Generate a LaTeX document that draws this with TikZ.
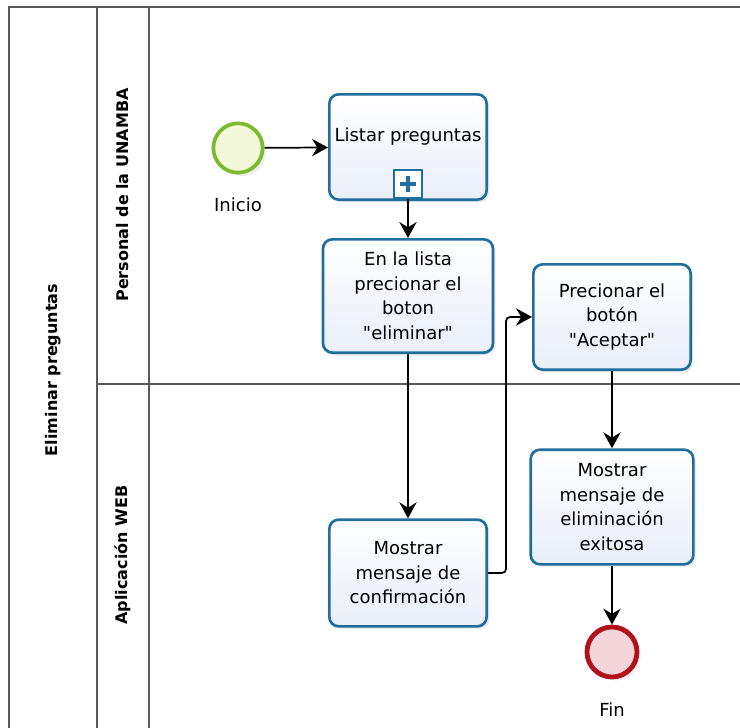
\documentclass[tikz,border=0pt]{standalone}
\usepackage{fontspec}
\setmainfont{DejaVu Sans}
\usetikzlibrary{arrows.meta,positioning,shadows}
\definecolor{tblue}{HTML}{1F6E9E}
\definecolor{tpale}{HTML}{E9EEFA}
\definecolor{sgreen}{HTML}{7DBB2E}
\definecolor{spale}{HTML}{F3F8DA}
\definecolor{ered}{HTML}{B0121B}
\definecolor{epale}{HTML}{F5D5DA}
\definecolor{lgray}{HTML}{5A5A5A}

\begin{document}
\begin{tikzpicture}[x=0.75pt,y=-0.75pt,every node/.style={font=\fontsize{13.5}{18.4}\selectfont,align=center},task/.style={draw=tblue,line width=2pt,rounded corners=7pt,top color=white,bottom color=tpale,minimum width=118pt,minimum height=79pt,inner sep=2pt,drop shadow={opacity=.15,shadow xshift=2pt,shadow yshift=-2pt}},submark/.style={draw=tblue,line width=1.6pt,fill=white,minimum size=21pt,inner sep=0pt},plus/.style={tblue,line width=3.6pt},start/.style={circle,draw=sgreen,line width=2.8pt,fill=spale,minimum size=37pt,inner sep=0pt,drop shadow={opacity=.12}},finish/.style={circle,draw=ered,line width=3.6pt,fill=epale,minimum size=37.5pt,inner sep=0pt,drop shadow={opacity=.12}},lane/.style={draw=lgray,line width=1.2pt},lanelabel/.style={rotate=90,font=\fontsize{12}{14}\selectfont\bfseries},flow/.style={-{Stealth[length=12pt,width=13pt,inset=4pt]},line width=1.3pt}]
\useasboundingbox (0,0) rectangle (740,728);
% pool and lanes
\draw[lane] (740,7) -- (9,7) -- (9,728);
\draw[lane] (97,7) -- (97,728) (149,7) -- (149,728) (97,384) -- (740,384);
\node[lanelabel] (pool) at (53,370) {Eliminar preguntas};
\node[lanelabel] (lane1) at (123,195) {Personal de la UNAMBA};
\node[lanelabel] (lane2) at (123,555) {Aplicación WEB};
% events and tasks
\node[start] (ini) at (238,148) {};
\node (inilbl) at (238,205) {Inicio};
\node[task] (lis) at (408,147) {Listar preguntas\\\mbox{}};
\node[submark] (mk) at (408,184) {};
\draw[plus] (mk.center) ++(-8,0) -- ++(16,0) (mk.center) ++(0,-8) -- ++(0,16);
\node[task,minimum width=127.5pt,minimum height=85pt] (eli) at (408,296) {En la lista\\precionar el\\boton\\\textquotedbl eliminar\textquotedbl};
\node[task] (ace) at (612,317) {Precionar el\\botón\\\textquotedbl Aceptar\textquotedbl};
\node[task,minimum height=80pt] (con) at (408,573) {Mostrar\\mensaje de\\confirmación};
\node[task,minimum width=122pt,minimum height=86pt] (exi) at (612,507) {Mostrar\\mensaje de\\eliminación\\exitosa};
\node[finish] (fin) at (612,652) {};
\node (finlbl) at (612,710) {Fin};
\draw[flow] (ini) -- (lis); \draw[flow] (mk) -- (eli); \draw[flow] (eli) -- (con);
\draw[flow,rounded corners=3pt] (con.east) -- ++(18,0) |- (ace.west);
\draw[flow] (ace) -- (exi); \draw[flow] (exi) -- (fin);
\end{tikzpicture}
\end{document}
